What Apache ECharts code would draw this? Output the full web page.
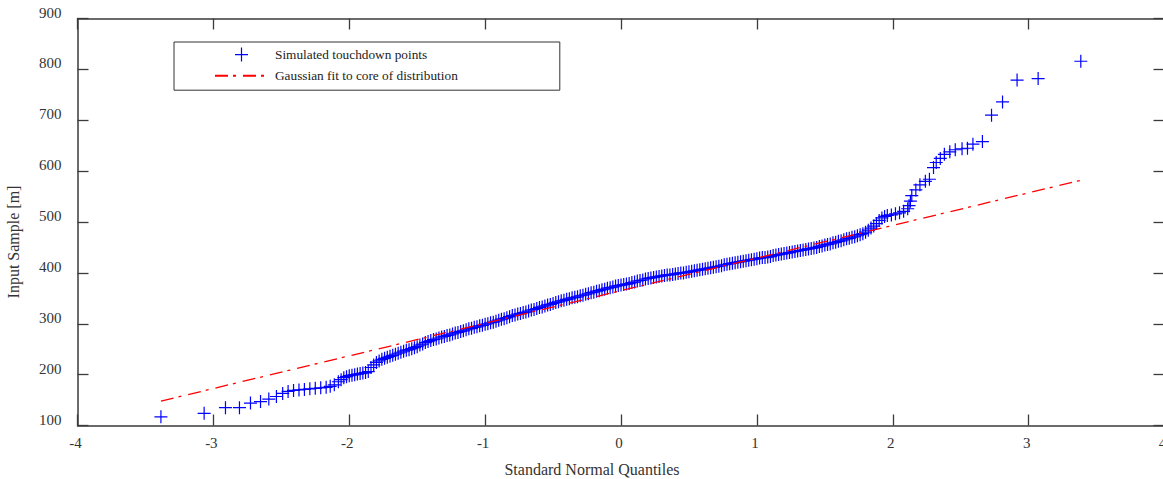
<!DOCTYPE html>
<html>
<head>
<meta charset="utf-8">
<script src="https://cdn.jsdelivr.net/npm/echarts@6/dist/echarts.min.js"></script>
<style>
  html, body { margin: 0; padding: 0; background: #ffffff; }
  #chart { width: 1163px; height: 479px; }
</style>
</head>
<body>
<div id="chart"></div>
<script>
// Normal probability plot of simulated touchdown points.

// Lower tail: standard normal quantiles and sample values [m]
const lowTailQ = [-3.386, -3.068, -2.911, -2.808, -2.727, -2.653, -2.592, -2.536, -2.49, -2.45,
  -2.41, -2.37, -2.33, -2.29, -2.25, -2.21, -2.17, -2.14, -2.11, -2.08, -2.06, -2.04, -2.02,
  -2.00, -1.98, -1.96, -1.94, -1.92, -1.90, -1.88, -1.86, -1.84, -1.82];
const lowTailV = [117, 124, 135, 135, 144, 147, 152, 157, 163, 167,
  169, 170, 171, 172, 173, 174, 175, 177, 180, 186, 190, 194, 196,
  198, 199, 200, 201, 202, 203, 204, 206, 214, 219];

// Core of the distribution
const coreQ = [-1.80, -1.78, -1.76, -1.74, -1.72, -1.70, -1.68, -1.66, -1.64, -1.62,
  -1.60, -1.58, -1.56, -1.54, -1.52, -1.50, -1.48, -1.46, -1.44, -1.42,
  -1.40, -1.38, -1.36, -1.34, -1.32, -1.30, -1.28, -1.26, -1.24, -1.22,
  -1.20, -1.18, -1.16, -1.14, -1.12, -1.10, -1.08, -1.06, -1.04, -1.02,
  -1.00, -0.98, -0.96, -0.94, -0.92, -0.90, -0.88, -0.86, -0.84, -0.82,
  -0.80, -0.78, -0.76, -0.74, -0.72, -0.70, -0.68, -0.66, -0.64, -0.62,
  -0.60, -0.58, -0.56, -0.54, -0.52, -0.50, -0.48, -0.46, -0.44, -0.42,
  -0.40, -0.38, -0.36, -0.34, -0.32, -0.30, -0.28, -0.26, -0.24, -0.22,
  -0.20, -0.18, -0.16, -0.14, -0.12, -0.10, -0.08, -0.06, -0.04, -0.02,
  0.00, 0.02, 0.04, 0.06, 0.08, 0.10, 0.12, 0.14, 0.16, 0.18,
  0.20, 0.22, 0.24, 0.26, 0.28, 0.30, 0.32, 0.34, 0.36, 0.38,
  0.40, 0.42, 0.44, 0.46, 0.48, 0.50, 0.52, 0.54, 0.56, 0.58,
  0.60, 0.62, 0.64, 0.66, 0.68, 0.70, 0.72, 0.74, 0.76, 0.78,
  0.80, 0.82, 0.84, 0.86, 0.88, 0.90, 0.92, 0.94, 0.96, 0.98,
  1.00, 1.02, 1.04, 1.06, 1.08, 1.10, 1.12, 1.14, 1.16, 1.18,
  1.20, 1.22, 1.24, 1.26, 1.28, 1.30, 1.32, 1.34, 1.36, 1.38,
  1.40, 1.42, 1.44, 1.46, 1.48, 1.50, 1.52, 1.54, 1.56, 1.58,
  1.60, 1.62, 1.64, 1.66, 1.68, 1.70, 1.72, 1.74, 1.76, 1.78,
  1.80, 1.82, 1.84];
const coreV = [224, 227, 230, 232, 234, 236, 238, 240, 242, 244,
  246, 248, 249, 251, 253, 255, 258, 260, 263, 265,
  267, 269, 270, 272, 274, 275, 277, 278, 280, 282,
  283, 285, 286, 288, 290, 291, 293, 294, 296, 297,
  299, 300, 302, 303, 305, 307, 309, 310, 312, 314,
  316, 317, 319, 320, 322, 323, 325, 327, 328, 330,
  332, 333, 335, 337, 338, 340, 342, 343, 345, 346,
  348, 349, 351, 352, 353, 355, 356, 358, 359, 361,
  362, 364, 365, 367, 368, 370, 371, 372, 374, 375,
  376, 377, 378, 379, 381, 382, 384, 385, 386, 388,
  389, 390, 391, 392, 393, 394, 395, 396, 396, 397,
  398, 399, 400, 400, 401, 402, 403, 404, 405, 406,
  407, 408, 409, 410, 411, 412, 413, 414, 416, 417,
  418, 419, 420, 421, 422, 423, 424, 425, 426, 427,
  428, 429, 430, 430, 431, 432, 434, 435, 436, 437,
  438, 439, 440, 441, 442, 443, 444, 445, 446, 447,
  448, 449, 450, 452, 453, 455, 456, 457, 459, 460,
  462, 463, 465, 467, 468, 470, 471, 473, 475, 477,
  480, 484, 488];

// Upper tail
const highTailQ = [1.86, 1.88, 1.90, 1.92, 1.94, 1.96, 1.99, 2.02, 2.05, 2.08,
  2.11, 2.12, 2.13, 2.14, 2.17, 2.20, 2.24, 2.27, 2.30, 2.32,
  2.35, 2.38, 2.42, 2.46, 2.51, 2.55, 2.59, 2.66, 2.727, 2.808,
  2.915, 3.07, 3.384];
const highTailV = [492, 497, 503, 508, 511, 513, 514, 516, 518, 521,
  526, 532, 541, 552, 563, 573, 580, 584, 607, 617,
  625, 633, 638, 642, 644, 645, 653, 658, 710, 736,
  779, 782, 816];

// Gaussian fit line end points
const fitQ = [-3.386, 3.384];
const fitV = [148, 582];

const sampleQ = lowTailQ.concat(coreQ, highTailQ);
const sampleV = lowTailV.concat(coreV, highTailV);
const samplePoints = sampleQ.map((q, i) => [q, sampleV[i]]);
const fitPoints = fitQ.map((q, i) => [q, fitV[i]]);

const serif = '"Liberation Serif", "DejaVu Serif", serif';
const axisColor = '#3a3a3a';
const plusPath = 'path://M0,7 L14,7 M7,0 L7,14';
const plusLegendPath = 'path://M0,0 L0,0 M53,14 L53,14 M20,7 L33,7 M26.5,0 L26.5,14';

const chart = echarts.init(document.getElementById('chart'), null, { renderer: 'svg' });

const baseX = {
  type: 'value', min: -4, max: 4, interval: 1,
  splitLine: { show: false },
  axisLine: { show: true, onZero: false, lineStyle: { color: axisColor, width: 1.5 } },
  axisTick: { show: true, inside: true, length: 11, lineStyle: { color: axisColor, width: 1.3 } }
};
const baseY = {
  type: 'value', min: 100, max: 900, interval: 100,
  splitLine: { show: false },
  axisLine: { show: true, onZero: false, lineStyle: { color: axisColor, width: 1.5 } },
  axisTick: { show: true, inside: true, length: 11, lineStyle: { color: axisColor, width: 1.3 } }
};

chart.setOption({
  animation: false,
  backgroundColor: '#ffffff',
  grid: { left: 77.5, top: 18.5, width: 1087, height: 407, containLabel: false, outerBoundsMode: 'none' },
  legend: {
    orient: 'vertical',
    left: 174, top: 42,
    padding: [5, 102, 8, 40],
    itemGap: 7,
    itemWidth: 53, itemHeight: 14,
    borderColor: '#333333', borderWidth: 1,
    backgroundColor: '#ffffff',
    textStyle: { fontFamily: serif, fontSize: 13.3, color: '#222222', padding: [0, 0, 0, 2] },
    data: [
      { name: 'Simulated touchdown points', icon: plusLegendPath,
        itemStyle: { color: 'transparent', borderColor: '#0000ff', borderWidth: 1.2 } },
      { name: 'Gaussian fit to core of distribution',
        itemStyle: { color: 'transparent', borderColor: 'transparent', borderWidth: 0, opacity: 0 } }
    ]
  },
  xAxis: [
    Object.assign({}, baseX, {
      position: 'bottom',
      axisLabel: { show: true, fontFamily: serif, fontSize: 15, color: '#333333', margin: 10, padding: [0, 4, 0, 0] },
      name: 'Standard Normal Quantiles',
      nameLocation: 'middle', nameGap: 36,
      nameTextStyle: { fontFamily: serif, fontSize: 16, color: '#333333', padding: [0, 58, 0, 0] }
    }),
    Object.assign({}, baseX, { position: 'top', axisLabel: { show: false } })
  ],
  yAxis: [
    Object.assign({}, baseY, {
      position: 'left',
      axisLabel: { show: true, fontFamily: serif, fontSize: 15, color: '#333333', margin: 16,
        verticalAlign: 'bottom', lineHeight: 8, padding: [0, 0, 2, 0] },
      name: 'Input Sample [m]',
      nameLocation: 'middle', nameGap: 56,
      nameTextStyle: { fontFamily: serif, fontSize: 16, color: '#333333', padding: [0, 40, 0, 0] }
    }),
    Object.assign({}, baseY, { position: 'right', axisLabel: { show: false } })
  ],
  series: [
    {
      name: 'Simulated touchdown points',
      type: 'scatter',
      xAxisIndex: 0, yAxisIndex: 0,
      symbol: plusPath,
      symbolSize: 13,
      itemStyle: { color: 'transparent', borderColor: '#0000ff', borderWidth: 1.2, opacity: 1 },
      emphasis: { disabled: true },
      data: samplePoints,
      z: 2
    },
    {
      name: 'Gaussian fit to core of distribution',
      type: 'line',
      xAxisIndex: 0, yAxisIndex: 0,
      symbol: 'none',
      showSymbol: false,
      lineStyle: { color: '#ff0000', width: 1.3, type: [13, 5, 3, 7] },
      itemStyle: { color: '#ff0000' },
      emphasis: { disabled: true },
      data: fitPoints,
      z: 3
    }
  ]
});
</script>
</body>
</html>
